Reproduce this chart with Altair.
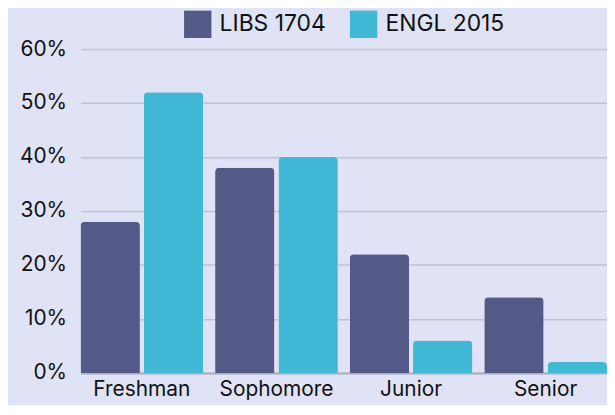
import altair as alt
import pandas as pd

categories = ["Freshman", "Sophomore", "Junior", "Senior"]
series_names = ["LIBS 1704", "ENGL 2015"]
libs_values = [0.28, 0.38, 0.22, 0.14]
engl_values = [0.52, 0.40, 0.06, 0.02]
colors = ["#545a87", "#41b8d5"]

rows = []
for c, v in zip(categories, libs_values):
    rows.append({"Year": c, "Course": series_names[0], "Share": v})
for c, v in zip(categories, engl_values):
    rows.append({"Year": c, "Course": series_names[1], "Share": v})
df = pd.DataFrame(rows)

FONT = "Inter"

chart = alt.Chart(df).mark_bar(
    cornerRadiusTopLeft=4, cornerRadiusTopRight=4
).encode(
    x=alt.X("Year:N", sort=categories,
            scale=alt.Scale(paddingInner=0.088, paddingOuter=0),
            axis=alt.Axis(title=None, labelAngle=0, labelFontSize=21, labelColor="#111111",
                          labelFont=FONT, ticks=False, domain=True, domainColor="#a9adbd",
                          domainWidth=2, labelPadding=6)),
    xOffset=alt.XOffset("Course:N", sort=series_names,
                        scale=alt.Scale(paddingInner=0.0625, paddingOuter=0)),
    y=alt.Y("Share:Q", scale=alt.Scale(domain=[0, 0.6]),
            axis=alt.Axis(title=None, format=".0%", values=[0, 0.1, 0.2, 0.3, 0.4, 0.5, 0.6],
                          labelFontSize=21, labelColor="#111111", labelFont=FONT,
                          ticks=False, domain=False, gridColor="#bfc2d2", gridWidth=1.5,
                          labelPadding=14)),
    color=alt.Color("Course:N", sort=series_names,
                    scale=alt.Scale(domain=series_names, range=colors),
                    legend=alt.Legend(title=None, orient="none", direction="horizontal",
                                      legendX=104, legendY=-39, symbolType="square",
                                      symbolSize=760, symbolStrokeWidth=0,
                                      labelFontSize=23, labelFont=FONT, labelColor="#111111",
                                      columnPadding=24, labelOffset=8)),
).properties(
    width=530, height=326,
    background="#dfe3f5",
    padding={"left": 73, "top": 40, "right": 0, "bottom": 31},
    autosize=alt.AutoSizeParams(type="none"),
).configure_view(stroke=None)

chart.save("out.html", embed_options={"renderer": "svg", "actions": False})
